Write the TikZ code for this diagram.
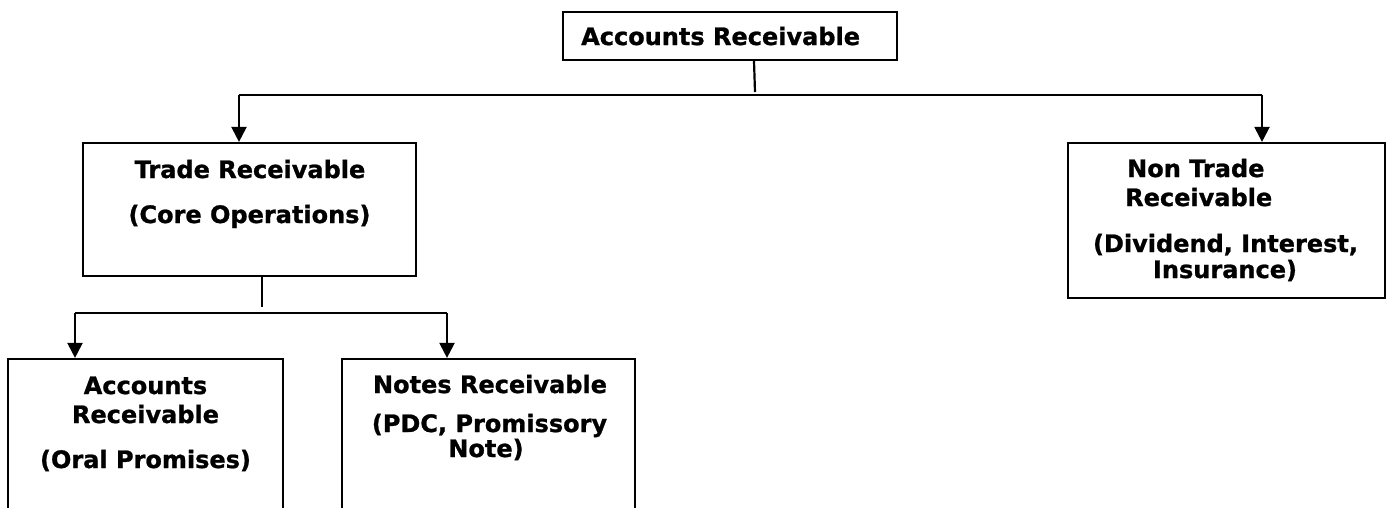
\documentclass[tikz,border=0pt]{standalone}
\usepackage{fontspec}
\setmainfont{DejaVu Sans}[BoldFeatures={FakeBold=1}]
\usetikzlibrary{arrows.meta}
\begin{document}
\begin{tikzpicture}[x=1pt,y=-1pt,
  box/.style={draw,line width=2.2pt,inner sep=0pt},
  lbl/.style={font=\fontsize{24}{28}\selectfont\bfseries,inner sep=0pt},
  conn/.style={line width=2.2pt},
  arr/.style={line width=2.2pt,-{Triangle[width=15pt,length=15pt]}}]
\useasboundingbox (0,0) rectangle (1389,507);
\clip (0,0) rectangle (1389,507);
\fill[white] (0,0) rectangle (1389,507);
% boxes
\node[box,minimum width=334pt,minimum height=48pt] (top) at (730,36) {};
\node[box,minimum width=333pt,minimum height=133pt] (trade) at (249.5,209.5) {};
\node[box,minimum width=317pt,minimum height=155pt] (nontrade) at (1226.5,220.5) {};
\node[box,minimum width=275pt,minimum height=200pt] (acc) at (145.5,459) {};
\node[box,minimum width=293pt,minimum height=200pt] (notes) at (488.5,459) {};
% texts
\node[lbl,anchor=base west] (tTop) at (581,45) {Accounts Receivable};
\node[lbl,anchor=base] (tTr1) at (250,178) {Trade Receivable};
\node[lbl,anchor=base] (tTr2) at (249.5,223) {(Core Operations)};
\node[lbl,anchor=base west] (tNt1) at (1127,177) {Non Trade};
\node[lbl,anchor=base west] (tNt2) at (1125,206) {Receivable};
\node[lbl,anchor=base] (tNt3) at (1225.5,252) {(Dividend, Interest,};
\node[lbl,anchor=base] (tNt4) at (1225,278) {Insurance)};
\node[lbl,anchor=base] (tAc1) at (145.5,394) {Accounts};
\node[lbl,anchor=base] (tAc2) at (145.5,423) {Receivable};
\node[lbl,anchor=base] (tAc3) at (145.5,468) {(Oral Promises)};
\node[lbl,anchor=base] (tNo1) at (490,393) {Notes Receivable};
\node[lbl,anchor=base] (tNo2) at (489.5,432) {(PDC, Promissory};
\node[lbl,anchor=base] (tNo3) at (486,457) {Note)};
% connectors
\coordinate (t1) at (755,92);
\coordinate (hL) at (239,95);
\coordinate (hR) at (1262,95);
\coordinate (t2) at (262,307);
\coordinate (bL) at (75,313);
\coordinate (bR) at (447,313);
\draw[conn] (top.south -| 754,0) -- (t1);
\draw[conn] (hL) -- (hR);
\draw[arr] (hL) -- (hL |- trade.north);
\draw[arr] (hR) -- (hR |- nontrade.north);
\draw[conn] (trade.south -| t2) -- (t2);
\draw[conn] (bL) -- (bR);
\draw[arr] (bL) -- (bL |- acc.north);
\draw[arr] (bR) -- (bR |- notes.north);
\end{tikzpicture}
\end{document}
